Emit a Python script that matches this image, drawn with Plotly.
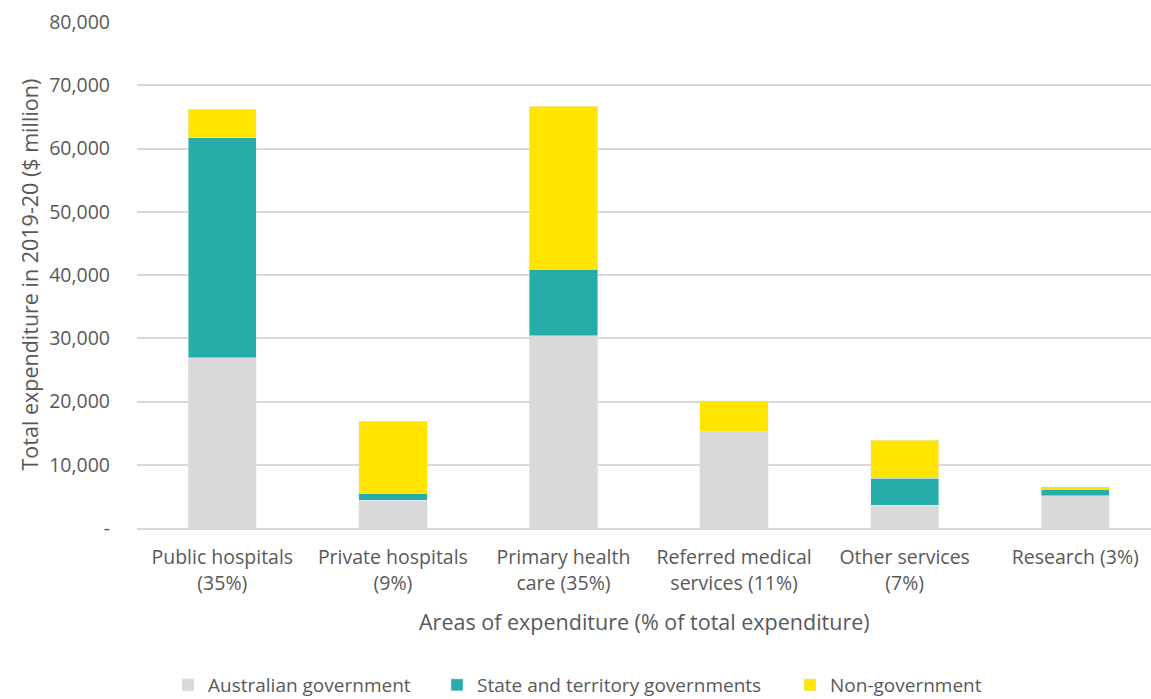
import plotly.graph_objects as go

categories = ["Public hospitals<br>(35%)", "Private hospitals<br>(9%)", "Primary health<br>care (35%)",
              "Referred medical<br>services (11%)", "Other services<br>(7%)", "Research (3%)"]
australian_gov = [26900, 4400, 30400, 15200, 3600, 5100]
state_territory = [34800, 1100, 10500, 0, 4300, 1000]
non_government = [4500, 11400, 25800, 4900, 6000, 400]

y_tickvals = [0, 10000, 20000, 30000, 40000, 50000, 60000, 70000, 80000]
y_ticktext = ["-", "10,000", "20,000", "30,000", "40,000", "50,000", "60,000", "70,000", "80,000"]

FONT = "Open Sans"
GREY_TEXT = "#595959"

W, H = 1151, 699
TOP, BOTTOM = 22, 171
PLOT_H = H - TOP - BOTTOM

fig = go.Figure()
fig.add_bar(x=categories, y=australian_gov, name="Australian government",
            marker_color="#d9d9d9", legend="legend")
fig.add_bar(x=categories, y=state_territory, name="State and territory governments",
            marker_color="#27ada9", legend="legend2")
fig.add_bar(x=categories, y=non_government, name="Non-government",
            marker_color="#ffe500", legend="legend3")

legend_common = dict(orientation="h", xref="container", yref="container", xanchor="left",
                     yanchor="middle", y=1 - 685 / H, itemwidth=30,
                     font=dict(size=19, color=GREY_TEXT), bgcolor="rgba(0,0,0,0)")

fig.update_layout(
    width=W, height=H,
    barmode="stack", bargap=0.6,
    plot_bgcolor="white", paper_bgcolor="white",
    margin=dict(l=137, r=0, t=TOP, b=BOTTOM),
    font=dict(family=FONT, size=18, color=GREY_TEXT),
    showlegend=True,
    legend=dict(x=(188 - 20) / W, **legend_common),
    legend2=dict(x=(457 - 20) / W, **legend_common),
    legend3=dict(x=(810 - 20) / W, **legend_common),
    xaxis=dict(range=[-0.5, 5.444], showgrid=False, ticks="", showline=True,
               linecolor="#d9d9d9", linewidth=1.5, tickfont=dict(size=19.5, color=GREY_TEXT),
               ticklabelstandoff=11),
    yaxis=dict(range=[0, 80000], tickvals=y_tickvals, ticktext=y_ticktext,
               showgrid=True, gridcolor="#d9d9d9", gridwidth=1.5, zeroline=False,
               ticks="", tickfont=dict(size=19.5, color=GREY_TEXT), ticklabelstandoff=26),
    annotations=[
        dict(text="Total expenditure in 2019-20 ($ million)", xref="paper", yref="paper",
             x=-0.107, y=0.5, xanchor="center", yanchor="middle", textangle=-90,
             showarrow=False, font=dict(size=21.5, color=GREY_TEXT)),
        dict(text="Areas of expenditure (% of total expenditure)", x=0.5, xref="paper",
             y=-93 / PLOT_H, yref="paper", xanchor="center", yanchor="middle",
             showarrow=False, font=dict(size=21.5, color=GREY_TEXT)),
    ],
)

fig.write_html("out.html")
